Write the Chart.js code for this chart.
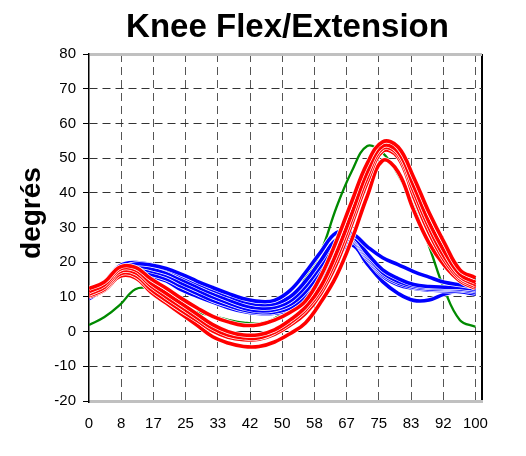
<!DOCTYPE html>
<html>
<head>
<meta charset="utf-8">
<script src="https://cdn.jsdelivr.net/npm/chart.js@4.4.1/dist/chart.umd.min.js"></script>
<style>
  html, body { margin: 0; padding: 0; background: #ffffff; }
  #wrap { width: 526px; height: 456px; position: relative; }
</style>
</head>
<body>
<div id="wrap"><canvas id="chart" width="526" height="456"></canvas></div>
<script>
// Percent of gait cycle at which each curve is sampled
const cyclePct = [0, 4, 8, 12, 16, 20, 24, 28, 32, 36, 40, 44, 48, 52, 56, 60, 64, 68, 72, 76, 80, 84, 88, 92, 96, 100];

// Axis tick labels
const xTickLabels = ['0', '8', '17', '25', '33', '42', '50', '58', '67', '75', '83', '92', '100'];
const yMin = -20;
const yMax = 80;
const yStep = 10;

const titleText = 'Knee Flex/Extension';
const yTitleText = 'degrés';

// Reference (normal) knee angle curve
const normalCurve = [1.9, 4.2, 7.7, 12.2, 12.3, 9.8, 7.0, 5.6, 4.5, 3.4, 2.6, 2.4, 3.8, 8.0, 15.5, 23.0, 35.7, 46.2, 53.5, 51.5, 45.2, 36.0, 24.6, 12.0, 3.3, 1.4];

// Red trials
const red1 = [12.4, 14.3, 18.6, 18.5, 15.2, 12.5, 9.5, 6.8, 4.4, 2.8, 1.8, 2.0, 3.3, 5.5, 8.8, 16.0, 26.0, 37.5, 48.5, 54.7, 53.2, 44.5, 34.3, 25.5, 17.8, 15.5];
const red2 = [11.5, 13.5, 18.0, 17.8, 14.0, 11.0, 8.0, 5.0, 2.0, 0.0, -1.0, -0.9, 0.5, 3.3, 7.0, 13.0, 22.5, 34.0, 46.0, 53.5, 51.8, 42.0, 31.5, 23.0, 16.5, 14.2];
const red3 = [10.8, 12.8, 17.3, 17.0, 13.2, 10.0, 7.0, 4.0, 1.0, -1.0, -1.8, -1.8, -0.2, 2.5, 6.2, 12.0, 21.0, 32.5, 44.5, 52.8, 51.0, 40.5, 30.0, 21.5, 15.8, 13.5];
const red4 = [10.3, 12.2, 16.6, 16.2, 12.2, 9.0, 6.0, 3.2, 0.2, -1.6, -2.3, -2.2, -0.8, 1.8, 5.2, 11.0, 19.5, 31.0, 43.0, 52.0, 50.2, 39.0, 28.5, 20.5, 15.2, 13.0];
const red5 = [10.0, 11.9, 15.9, 15.5, 11.4, 8.2, 5.0, 1.8, -1.5, -3.3, -4.3, -4.3, -3.0, -0.6, 2.5, 8.5, 16.0, 26.5, 39.0, 49.3, 46.0, 35.0, 25.5, 19.0, 14.6, 12.5];

// Blue trials
const blue1 = [11.0, 14.0, 18.0, 19.5, 19.2, 18.2, 16.5, 14.5, 12.7, 11.0, 9.5, 8.7, 9.0, 11.8, 17.0, 23.0, 28.5, 28.3, 24.5, 21.3, 19.3, 17.3, 15.7, 14.2, 13.5, 12.8];
const blue2 = [11.8, 14.3, 19.0, 19.9, 19.3, 18.0, 16.0, 14.0, 12.0, 10.3, 8.7, 7.8, 8.0, 10.0, 14.5, 20.5, 26.5, 27.5, 22.5, 17.8, 15.3, 13.6, 13.0, 12.8, 12.7, 12.2];
const blue3 = [10.8, 13.5, 17.5, 18.8, 18.2, 17.0, 15.0, 13.0, 11.0, 9.2, 7.6, 6.8, 7.0, 8.8, 13.0, 19.0, 25.5, 27.0, 22.0, 17.0, 14.5, 13.2, 12.7, 12.5, 12.3, 11.8];
const blue4 = [10.2, 13.0, 17.0, 18.2, 17.5, 16.2, 14.0, 12.0, 10.0, 8.3, 6.8, 6.0, 6.3, 7.8, 11.5, 17.5, 24.5, 26.5, 21.5, 16.5, 14.0, 12.8, 12.3, 12.2, 12.0, 11.3];
const blue5 = [9.5, 12.3, 16.2, 17.5, 16.5, 15.2, 13.0, 11.0, 9.0, 7.5, 6.2, 5.5, 5.6, 6.8, 10.0, 15.5, 23.0, 26.0, 21.0, 16.0, 13.5, 12.5, 12.0, 11.8, 11.5, 10.8];
const blue6 = [9.8, 12.6, 16.5, 17.2, 16.0, 14.6, 12.0, 10.2, 8.5, 6.9, 5.8, 5.2, 5.3, 6.2, 9.0, 14.0, 21.5, 25.0, 19.5, 14.4, 11.0, 9.0, 9.1, 10.8, 11.8, 12.0];

const redSeries = [red1, red2, red3, red4, red5];
const blueSeries = [blue1, blue2, blue3, blue4, blue5, blue6];

const FONT = "'Liberation Sans', Arial, Helvetica, sans-serif";
const RED = '#ff0000';
const BLUE = '#0000ff';
const GREEN = '#008a00';

const toPoints = vals => vals.map((v, i) => ({ x: cyclePct[i], y: v }));

// Each trial is drawn over a slightly wider white stroke of itself,
// which separates overlapping curves. Dataset 0 is painted last (on top).
const datasets = [];
function addCurve(vals, color, width, outlined) {
  datasets.push({
    data: toPoints(vals), borderColor: color, borderWidth: width,
    pointRadius: 0, tension: 0.4, fill: false
  });
  if (outlined) {
    datasets.push({
      data: toPoints(vals), borderColor: '#ffffff', borderWidth: width + 1.4,
      pointRadius: 0, tension: 0.4, fill: false
    });
  }
}
redSeries.forEach(s => addCurve(s, RED, 3.6, true));
blueSeries.forEach(s => addCurve(s, BLUE, 3.6, true));
addCurve(normalCurve, GREEN, 2.3, false);

const lastXTick = xTickLabels.length; // extra tick at the right edge of the plot

const captions = {
  id: 'captions',
  beforeDraw(chart) {
    const { ctx } = chart;
    ctx.save();
    ctx.fillStyle = '#ffffff';
    ctx.fillRect(0, 0, chart.width, chart.height);
    ctx.restore();
  },
  afterDraw(chart) {
    const { ctx, chartArea } = chart;
    ctx.save();
    ctx.fillStyle = '#000000';
    ctx.font = 'bold 33px ' + FONT;
    ctx.textAlign = 'center';
    ctx.textBaseline = 'alphabetic';
    ctx.fillText(titleText, (chartArea.left + chartArea.right) / 2 + 2, 37);
    ctx.translate(32, 213);
    ctx.rotate(-Math.PI / 2);
    ctx.font = 'bold 28px ' + FONT;
    ctx.textBaseline = 'middle';
    ctx.fillText(yTitleText, 0, 0);
    ctx.restore();
  }
};

new Chart(document.getElementById('chart'), {
  type: 'line',
  data: { datasets },
  options: {
    responsive: false,
    animation: false,
    events: [],
    layout: { padding: { top: 54, right: 44, left: 0, bottom: 0 } },
    plugins: {
      legend: { display: false },
      tooltip: { enabled: false },
      title: { display: false }
    },
    scales: {
      x: {
        type: 'linear',
        min: 0,
        max: 101.7,
        afterBuildTicks(scale) {
          const n = xTickLabels.length - 1;
          const t = xTickLabels.map((_, i) => ({ value: i * 100 / n }));
          t.push({ value: scale.max });
          scale.ticks = t;
        },
        afterFit(scale) { scale.height = 55; },
        ticks: {
          autoSkip: false,
          maxRotation: 0,
          padding: 14,
          color: '#000000',
          font: { family: FONT, size: 15 },
          callback: (v, i) => (i < xTickLabels.length ? xTickLabels[i] : '')
        },
        grid: {
          drawTicks: false,
          color: c => (c.index === lastXTick ? '#000000' : (c.index === 0 ? 'rgba(0,0,0,0)' : '#555555')),
          lineWidth: c => (c.index === lastXTick ? 2 : 1)
        },
        border: {
          display: true,
          color: '#c0c0c0',
          width: 3,
          dash: c => (c.index === lastXTick ? [] : [8, 5])
        }
      },
      y: {
        min: yMin,
        max: yMax,
        afterFit(scale) { scale.width = 89; },
        ticks: {
          stepSize: yStep,
          padding: 7,
          color: '#000000',
          font: { family: FONT, size: 15 }
        },
        grid: {
          drawTicks: true,
          tickLength: 6,
          tickColor: '#000000',
          tickWidth: 1,
          color: c => {
            const v = c.tick ? c.tick.value : null;
            if (v === 0) return '#000000';
            if (v === yMin || v === yMax) return '#c0c0c0';
            return '#333333';
          },
          lineWidth: c => {
            const v = c.tick ? c.tick.value : null;
            return (v === yMin || v === yMax) ? 3 : 1;
          }
        },
        border: {
          display: true,
          color: '#000000',
          width: 1.5,
          dash: c => {
            const v = c.tick ? c.tick.value : null;
            return (v === 0 || v === yMin || v === yMax) ? [] : [8, 5];
          }
        }
      }
    }
  },
  plugins: [captions]
});
</script>
</body>
</html>
